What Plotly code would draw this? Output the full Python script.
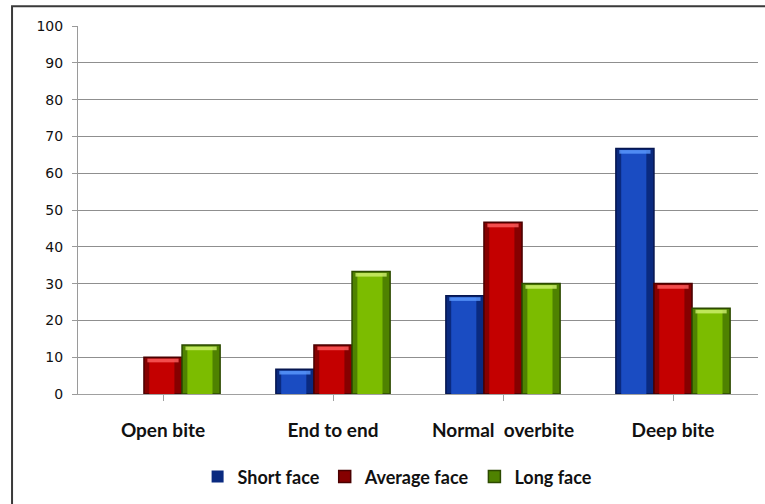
import plotly.graph_objects as go

# Share of each bite type (%) within each facial type
categories = ["Open bite", "End to end", "Normal\u00a0\u00a0overbite", "Deep bite"]
short_face = [0, 6.7, 26.7, 66.7]
average_face = [10, 13.3, 46.7, 30]
long_face = [13.3, 33.3, 30, 23.3]

series = [
    ("Short face", short_face, "#1a4cc2", "#0a2a80", "#061650", "#5c9bff"),
    ("Average face", average_face, "#c40000", "#860000", "#4a0000", "#ff6060"),
    ("Long face", long_face, "#7cbc00", "#4f8200", "#2c4a00", "#d0f070"),
]

bar_w = 0.224
offsets = [-1.5 * bar_w, -0.5 * bar_w, 0.5 * bar_w]
xs = list(range(len(categories)))

fig = go.Figure()
for (name, vals, col, shade, edge, hi), off in zip(series, offsets):
    # outer bar: darker sides with a dark outline
    fig.add_trace(go.Bar(
        x=xs, y=vals, name=name, width=bar_w, offset=off,
        marker=dict(color=shade,
                    line=dict(color=edge, width=[1.5 if v > 0 else 0 for v in vals])),
    ))
    # brighter centre of each bar
    fig.add_trace(go.Bar(
        x=xs, y=[max(v - 0.5, 0) for v in vals], width=bar_w * 0.66,
        offset=off + bar_w * 0.14, showlegend=False, hoverinfo="skip",
        marker=dict(color=col, line=dict(width=0)),
    ))
    # bevel highlight along the top of each bar
    fig.add_trace(go.Bar(
        x=xs, y=[1.0 if v > 1 else 0 for v in vals],
        base=[v - 1.4 if v > 1 else 0 for v in vals],
        width=bar_w * 0.82, offset=off + bar_w * 0.09,
        showlegend=False, hoverinfo="skip",
        marker=dict(color=hi, opacity=0.8, line=dict(width=0)),
    ))

fig.update_layout(
    width=765, height=504,
    margin=dict(l=78, r=7, t=26, b=110),
    paper_bgcolor="white", plot_bgcolor="white",
    barmode="overlay",
    font=dict(family="Lato, 'Open Sans', sans-serif", color="#111"),
    legend=dict(
        orientation="h", x=0.47, xanchor="center", y=-0.225, yanchor="middle",
        font=dict(size=18, family="Lato", weight="bold", color="#111"),
        itemwidth=30, tracegroupgap=0,
    ),
    showlegend=True,
)

fig.update_xaxes(
    tickmode="array", tickvals=xs, ticktext=categories,
    range=[-0.5, len(categories) - 0.5],
    showline=True, linecolor="#a0a0a0", linewidth=1,
    ticks="outside", tickson="boundaries", ticklen=6, tickcolor="#a0a0a0",
    tickfont=dict(size=19, family="Lato", weight="bold", color="#111"),
    ticklabelstandoff=13,
    showgrid=False, zeroline=False,
)
fig.update_yaxes(
    range=[0, 100], dtick=10,
    showline=True, linecolor="#9a9a9a", linewidth=1,
    ticks="outside", ticklen=5, tickcolor="#9a9a9a",
    tickfont=dict(size=14, family="DejaVu Sans", color="#111"),
    ticklabelstandoff=6,
    showgrid=True, gridcolor="#8f8f8f", gridwidth=1,
    zeroline=False,
)

# outer chart frame
fig.add_shape(
    type="rect", xref="paper", yref="paper",
    x0=-0.097, x1=1.6, y0=-1.0, y1=1.054,
    line=dict(color="#3a3a3a", width=2), layer="below",
)

fig.write_html("out.html")
